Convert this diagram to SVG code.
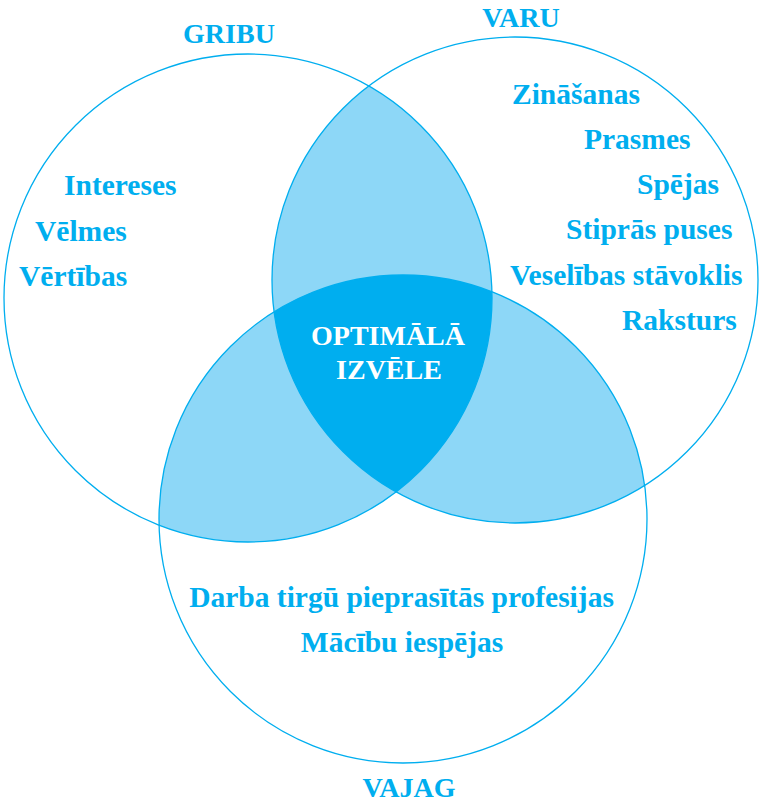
<svg xmlns="http://www.w3.org/2000/svg" width="762" height="805" viewBox="0 0 762 805">
<style>
.t{font-family:"Liberation Serif","Times New Roman",serif;font-weight:bold;fill:#00aeef}
.h{font-size:28px;text-anchor:middle}
.i{font-size:29.5px}
.c{text-anchor:middle}
.w{font-family:"Liberation Serif","Times New Roman",serif;font-weight:bold;fill:#ffffff;font-size:28px;text-anchor:middle}
.ring{fill:none;stroke:#00aeef;stroke-width:1.3}
.light{fill:#8dd7f7}
.dark{fill:#00aeef}
</style>
<defs>
<circle id="c1" cx="248" cy="298" r="244"/>
<circle id="c2" cx="515" cy="280" r="243"/>
<circle id="c3" cx="403" cy="519" r="244"/>
<clipPath id="k1"><use href="#c1"/></clipPath>
<clipPath id="k2"><use href="#c2"/></clipPath>
</defs>
<rect width="762" height="805" fill="#ffffff"/>
<g id="overlaps">
<use href="#c2" class="light" clip-path="url(#k1)"/>
<use href="#c3" class="light" clip-path="url(#k1)"/>
<use href="#c3" class="light" clip-path="url(#k2)"/>
<g clip-path="url(#k1)"><use href="#c3" class="dark" clip-path="url(#k2)"/></g>
</g>
<g id="gribu">
<use href="#c1" class="ring"/>
<text class="t h" x="229" y="43">GRIBU</text>
<text class="t i" x="64" y="195">Intereses</text>
<text class="t i" x="35" y="241">Vēlmes</text>
<text class="t i" x="19" y="286">Vērtības</text>
</g>
<g id="varu">
<use href="#c2" class="ring"/>
<text class="t h" x="521" y="27">VARU</text>
<text class="t i" x="512" y="104">Zināšanas</text>
<text class="t i" x="584" y="149">Prasmes</text>
<text class="t i" x="637" y="194">Spējas</text>
<text class="t i" x="566" y="239">Stiprās puses</text>
<text class="t i" x="510" y="285">Veselības stāvoklis</text>
<text class="t i" x="622" y="330">Raksturs</text>
</g>
<g id="vajag">
<use href="#c3" class="ring"/>
<text class="t h" x="409" y="797">VAJAG</text>
<text class="t i c" x="401.5" y="607">Darba tirgū pieprasītās profesijas</text>
<text class="t i c" x="402" y="652">Mācību iespējas</text>
</g>
<g id="optimala">
<text class="w" x="388" y="345">OPTIMĀLĀ</text>
<text class="w" x="389" y="379">IZVĒLE</text>
</g>
</svg>
